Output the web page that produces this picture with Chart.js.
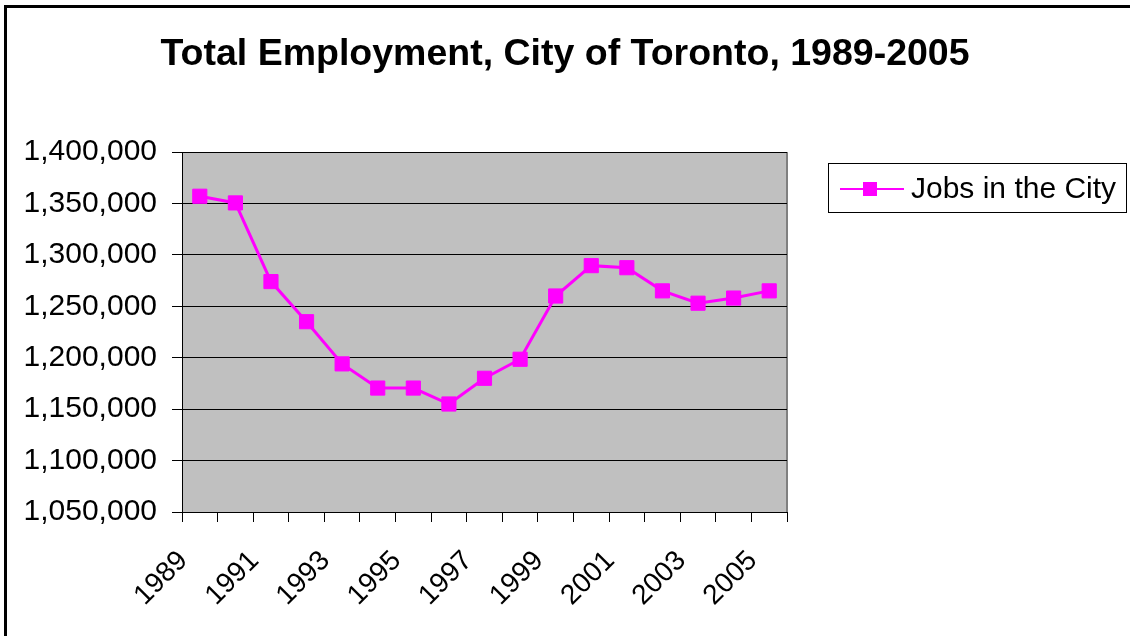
<!DOCTYPE html>
<html>
<head>
<meta charset="utf-8">
<script src="https://cdn.jsdelivr.net/npm/chart.js@4.4.1/dist/chart.umd.min.js"></script>
<style>
  html, body { margin: 0; padding: 0; background: #fff; }
  #wrap { width: 1130px; height: 636px; position: relative; }
</style>
</head>
<body>
<div id="wrap"><canvas id="chart"></canvas></div>
<script>
const YEARS = ["1989", "1990", "1991", "1992", "1993", "1994", "1995", "1996", "1997",
  "1998", "1999", "2000", "2001", "2002", "2003", "2004", "2005"]
const JOBS = [1357000, 1350500, 1274000, 1235000, 1194000, 1170500, 1170500, 1155000, 1180000,
  1198500, 1260000, 1289500, 1287500, 1265000, 1253000, 1258000, 1265000]
const Y_MIN = 1050000
const Y_MAX = 1400000
const Y_STEP = 50000

const FONT = "'Liberation Sans', Arial, sans-serif"
const MAGENTA = "#FF00FF"
const PLOT_BG = "#C0C0C0"

const formatNumber = (v) => v.toLocaleString("en-US")

// gray plot area, gray right edge, outer chart frame (left/top only visible)
const backdrop = {
  id: "backdrop",
  beforeDraw(chart) {
    const { ctx, chartArea: a } = chart
    ctx.save()
    ctx.fillStyle = PLOT_BG
    ctx.fillRect(a.left, a.top, a.right - a.left, a.bottom - a.top)
    ctx.strokeStyle = "#808080"
    ctx.lineWidth = 2
    ctx.beginPath()
    ctx.moveTo(a.right, a.top)
    ctx.lineTo(a.right, a.bottom)
    ctx.stroke()
    ctx.strokeStyle = "#000"
    ctx.lineWidth = 3
    ctx.beginPath()
    ctx.moveTo(5.5, chart.height)
    ctx.lineTo(5.5, 6.5)
    ctx.lineTo(chart.width, 6.5)
    ctx.stroke()
    ctx.restore()
  },
}

// Excel-style boxed legend at the right of the plot
const boxLegend = {
  id: "boxLegend",
  afterDraw(chart) {
    const { ctx } = chart
    const ds = chart.data.datasets[0]
    ctx.save()
    ctx.strokeStyle = "#000"
    ctx.lineWidth = 1
    ctx.strokeRect(828.5, 163.5, 298, 49)
    ctx.strokeStyle = ds.borderColor
    ctx.lineWidth = 2
    ctx.beginPath()
    ctx.moveTo(840, 189)
    ctx.lineTo(904, 189)
    ctx.stroke()
    ctx.fillStyle = ds.pointBackgroundColor
    ctx.fillRect(863, 182, 14, 14)
    ctx.fillStyle = "#000"
    ctx.font = `30px ${FONT}`
    ctx.textBaseline = "alphabetic"
    ctx.fillText(ds.label, 911, 198)
    ctx.restore()
  },
}

new Chart(document.getElementById("chart"), {
  type: "line",
  data: {
    labels: YEARS,
    datasets: [
      {
        label: "Jobs in the City",
        data: JOBS,
        borderColor: MAGENTA,
        borderWidth: 3,
        pointStyle: "rect",
        pointRadius: 10,
        pointBorderWidth: 1,
        pointBackgroundColor: MAGENTA,
        pointBorderColor: MAGENTA,
        tension: 0,
      },
    ],
  },
  options: {
    animation: false,
    responsive: true,
    maintainAspectRatio: false,
    layout: { padding: 0 },
    plugins: {
      legend: { display: false },
      tooltip: { enabled: false },
      title: {
        display: true,
        text: "Total Employment, City of Toronto, 1989-2005",
        color: "#000",
        font: { family: FONT, size: 37.5, weight: "bold", lineHeight: 1.2 },
        padding: { top: 32, bottom: 75 },
      },
    },
    scales: {
      x: {
        type: "category",
        offset: true,
        grid: {
          offset: true,
          drawOnChartArea: false,
          drawTicks: true,
          tickLength: 10,
          color: "#000",
        },
        border: { color: "#000", width: 1 },
        ticks: {
          autoSkip: false,
          maxRotation: 45,
          minRotation: 45,
          padding: 6,
          color: "#000",
          font: { family: FONT, size: 28 },
          // trailing spaces push the rotated year back from its tick, like Excel
          callback: function (value, index) {
            return index % 2 === 0 ? this.getLabelForValue(value) + "   " : ""
          },
        },
        afterFit: (scale) => { scale.height = 124 },
      },
      y: {
        min: Y_MIN,
        max: Y_MAX,
        grid: { color: "#000", tickLength: 10, drawTicks: true },
        border: { color: "#000", width: 1 },
        ticks: {
          stepSize: Y_STEP,
          padding: 15,
          color: "#000",
          font: { family: FONT, size: 30 },
          callback: (v) => formatNumber(v),
        },
        afterFit: (scale) => { scale.width = 182 },
      },
      // empty right-hand box that reserves room for the legend
      spacer: {
        position: "right",
        display: true,
        grid: { display: false, drawTicks: false },
        border: { display: false },
        ticks: { display: false },
        afterFit: (scale) => { scale.width = 343 },
      },
    },
  },
  plugins: [backdrop, boxLegend],
})
</script>
</body>
</html>
